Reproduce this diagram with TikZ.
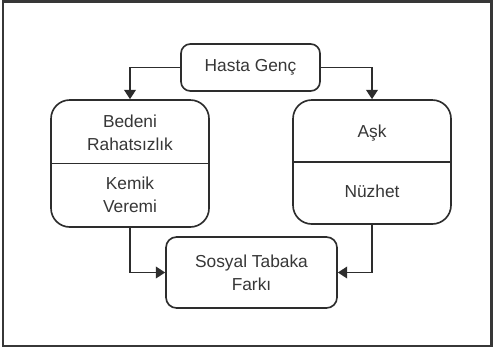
\documentclass[tikz,border=0pt]{standalone}
\usepackage{fontspec}
\setmainfont{Liberation Sans}
\usepackage{tikz}
\usetikzlibrary{arrows.meta, positioning, calc}
\definecolor{framegray}{RGB}{55, 55, 55}
\definecolor{linegray}{RGB}{45, 45, 45}
\definecolor{textgray}{RGB}{55, 55, 55}
\tikzset{
  kutu/.style={draw=linegray, line width=1.4pt, fill=white},
  yazi/.style={text=textgray, align=center, font=\fontsize{14.8}{19.6}\selectfont},
  ok/.style={-{Triangle[length=8pt, width=10pt]}, line width=1.4pt, linegray}
}

\begin{document}
\begin{tikzpicture}
  \useasboundingbox (0,0) rectangle (14.82,-10.44);
  % outer frame
  \draw[framegray, line width=2pt] (0.09,-0.04) rectangle (14.74,-10.38);

  % top box
  \node[kutu, yazi, rounded corners=8pt, minimum width=4.17cm, minimum height=1.41cm]
        (hasta) at (7.515,-2.025) {Hasta Genç};

  % left box: two parts
  \node[kutu, rounded corners=16pt, minimum width=4.74cm, minimum height=3.81cm]
        (beden) at (3.9,-4.905) {};
  \draw[linegray, line width=1.4pt] (beden.west) -- (beden.east);
  \node[yazi] (bedenUst) at (3.9,-3.99) {Bedeni\\Rahatsızlık};
  \node[yazi] (bedenAlt) at (3.9,-5.85) {Kemik\\Veremi};

  % right box: two parts
  \node[kutu, rounded corners=16pt, minimum width=4.74cm, minimum height=3.72cm]
        (ask) at (11.16,-4.86) {};
  \draw[linegray, line width=1.4pt] (ask.west) -- (ask.east);
  \node[yazi] (askUst) at (11.16,-3.99) {Aşk};
  \node[yazi] (askAlt) at (11.16,-5.73) {Nüzhet};

  % bottom box
  \node[kutu, yazi, rounded corners=9pt, minimum width=5.13cm, minimum height=2.13cm]
        (sosyal) at (7.545,-8.175) {Sosyal Tabaka\\Farkı};

  % arrows
  \draw[ok] (hasta.west) -| (beden.north);
  \draw[ok] (hasta.east) -| (ask.north);
  \draw[ok] (beden.south) |- (sosyal.west);
  \draw[ok] (ask.south) |- (sosyal.east);
\end{tikzpicture}
\end{document}
